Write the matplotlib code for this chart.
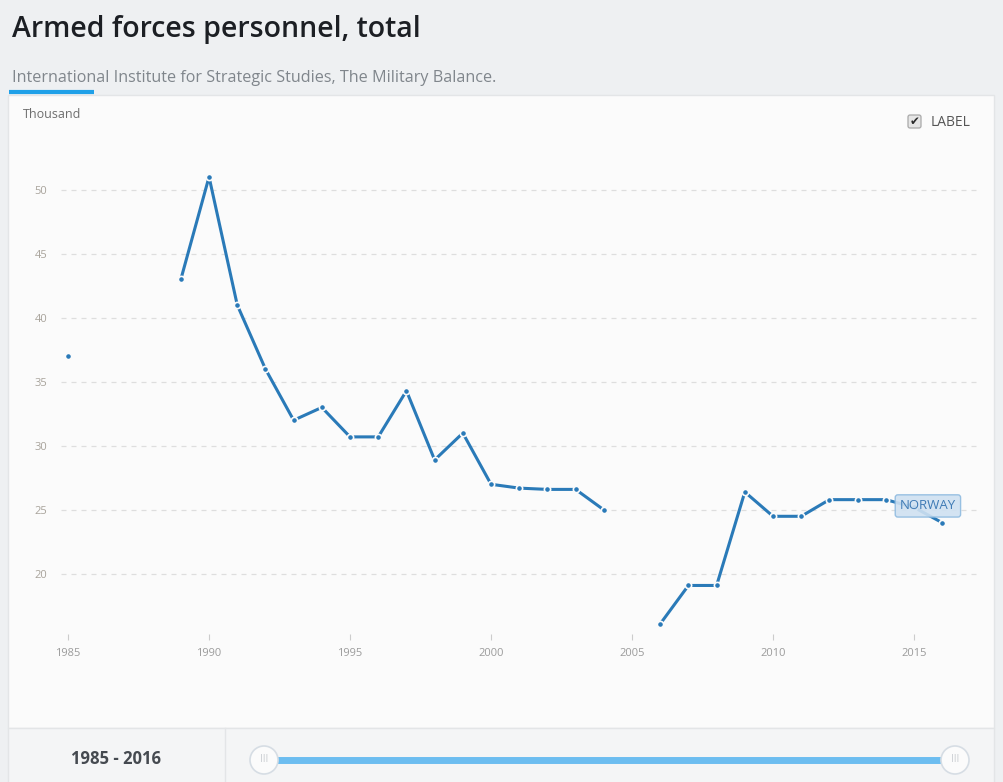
import matplotlib.pyplot as plt
import matplotlib.patches as mpatches
import numpy as np

plt.rcParams['font.family'] = ['Open Sans', 'DejaVu Sans']

# data (thousand), NaN = no value
years = list(range(1985, 2017))
values = [37.0, np.nan, np.nan, np.nan, 43.0, 51.0, 41.0, 36.0, 32.0, 33.0,
          30.7, 30.7, 34.3, 28.9, 31.0, 27.0, 26.7, 26.6, 26.6, 25.0,
          np.nan, 16.1, 19.1, 19.1, 26.4, 24.5, 24.5, 25.8, 25.8, 25.8,
          25.2, 24.0]
country = "NORWAY"
title = "Armed forces personnel, total"
source = "International Institute for Strategic Studies, The Military Balance."
unit = "Thousand"
range_text = "1985 - 2016"

W, H = 1004, 782
fig = plt.figure(figsize=(W / 100, H / 100), dpi=100)
fig.patch.set_facecolor('#eef0f2')

# overlay in pixel coordinates for page decorations
bg = fig.add_axes([0, 0, 1, 1])
bg.set_xlim(0, W)
bg.set_ylim(H, 0)
bg.axis('off')
bg.add_patch(mpatches.Rectangle((8, 95), 986, 633, facecolor='#fbfbfb',
                                edgecolor='#e3e5e7', lw=1))
bg.add_patch(mpatches.Rectangle((8, 728), 986, 60, facecolor='#f4f5f6',
                                edgecolor='#e3e5e7', lw=1))
bg.plot([225, 225], [728, 782], color='#e3e5e7', lw=1)
bg.plot([9, 94], [92, 92], color='#1fa0e8', lw=3, solid_capstyle='butt')
bg.text(12, 29, title, fontsize=20.5, color='#1c1f24', fontweight='semibold',
        va='center', ha='left')
bg.text(12, 78, source, fontsize=11.6, color='#80868c', va='center', ha='left')
bg.text(23, 114, unit, fontsize=9, color='#6e6e6e', va='center', ha='left')
bg.text(116, 759, range_text, fontsize=12, color='#454a50', fontweight='bold',
        va='center', ha='center')

# slider
bg.plot([264, 955], [760, 760], color='#6cbdf0', lw=5, solid_capstyle='butt')
for hx in (264, 955):
    bg.add_patch(mpatches.Circle((hx, 760), 14, facecolor='#fbfbfb',
                                 edgecolor='#d6dde4', lw=1.2, zorder=3))
    bg.text(hx, 760, 'III', fontsize=7, color='#c8ccd0', ha='center',
            va='center', zorder=4)

# checkbox
bg.add_patch(mpatches.FancyBboxPatch((908, 115), 13, 13,
                                     boxstyle='round,pad=0,rounding_size=2',
                                     facecolor='#e6e6e6', edgecolor='#a8a8a8', lw=0.9))
bg.text(914.5, 121.5, '✔', fontsize=8.5, color='#2b2b2b', ha='center', va='center',
        family='DejaVu Sans')
bg.text(931, 122, 'LABEL', fontsize=10, color='#555555', va='center', ha='left')

# chart axes
ax = fig.add_axes([61 / W, 1 - 634 / H, 919 / W, 484 / H])
ax.patch.set_alpha(0)
ax.set_xlim(1984.75, 2017.34)
ax.set_ylim(15.31, 53.1)
for s in ax.spines.values():
    s.set_visible(False)

ax.set_yticks([20, 25, 30, 35, 40, 45, 50])
ax.set_xticks([1985, 1990, 1995, 2000, 2005, 2010, 2015])
ax.grid(axis='y', color='#dedede', lw=0.9, ls=(0, (4, 4)))
ax.tick_params(axis='y', length=0, pad=10, labelsize=8, labelcolor='#a8a39b')
ax.tick_params(axis='x', length=4, width=0.8, color='#cccccc', pad=6,
               labelsize=8, labelcolor='#9b9b9b')

line_color = '#2a7ab8'
ax.plot(years, values, color=line_color, lw=2.2, marker='o', markersize=4.5,
        markerfacecolor=line_color, markeredgecolor='#fbfbfb', markeredgewidth=1.2,
        zorder=3)

# country label near 2015
idx = years.index(2015)
ax.annotate(country, (years[idx], values[idx]), xytext=(10, 1), textcoords='offset points',
            ha='center', va='center', fontsize=9.5, color='#3f7bb5', zorder=5,
            bbox=dict(boxstyle='round,pad=0.35,rounding_size=0.2', facecolor='#cfe1f1',
                      edgecolor='#8fbbe0', lw=1, alpha=0.9))

fig.savefig('out.png', dpi=100)
